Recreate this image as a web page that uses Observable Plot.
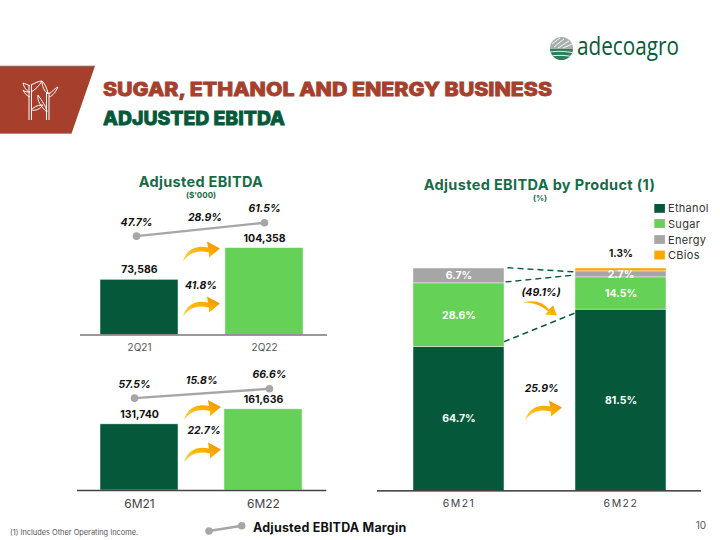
<!DOCTYPE html>
<html>
<head>
<meta charset="utf-8">
<script src="https://cdn.jsdelivr.net/npm/d3@7"></script>
<script src="https://cdn.jsdelivr.net/npm/@observablehq/plot@0.6"></script>
<style>
html,body{margin:0;padding:0;background:#fff;overflow:hidden}
#page{position:relative;width:720px;height:540px;overflow:hidden;background:#fff;font-family:Inter,sans-serif}
#page svg{position:absolute;overflow:visible}
</style>
</head>
<body>
<div id="page"></div>
<script>
// ---- data ----
const quarters = ["2Q21", "2Q22"];
const quarterEbitda = [73586, 104358];
const quarterMargin = [47.7, 61.5];
const halves = ["6M21", "6M22"];
const halfEbitda = [131740, 161636];
const halfMargin = [57.5, 66.6];
const products = ["Ethanol", "Sugar", "Energy", "CBios"];
const ethanolShare = [64.7, 81.5];
const sugarShare = [28.6, 14.5];
const energyShare = [6.7, 2.7];
const cbiosShare = [0, 1.3];
const connectorFrom = [100, 93.6, 66.7];
const connectorTo = [98.1, 96.7, 79.6];

const DARK = "#05593A", LIGHT = "#65D156", GREY = "#A6A6A6", ORANGE = "#FFA500";
const TITLE = "#176B47", RUST = "#A63F2C";
const FONT = "Inter, sans-serif";
const page = document.getElementById("page");
const place = (fig, left, top) => {
  fig.style.left = left + "px"; fig.style.top = top + "px";
  page.appendChild(fig); return fig;
};
const transparent = {background: "transparent", overflow: "visible", maxWidth: "none", fontFamily: FONT};
const thousands = d3.format(",");
const pct = v => v.toFixed(1) + "%";

// ---- absolute bar panel ----
function barPanel({cats, values, base, top, left, width, height, baseline, x, ruleColor, tickSize, tickColor, tickDy}) {
  const rows = cats.map((c, i) => ({c, v: values[i]}));
  return place(Plot.plot({
    width, height, marginTop: 0, marginBottom: 30, marginLeft: 0, marginRight: 0,
    style: transparent,
    x: {domain: cats, axis: null, ...x},
    y: {domain: [base, top], axis: null},
    color: {domain: cats, range: [DARK, LIGHT]},
    marks: [
      Plot.barY(rows, {x: "c", y1: () => base, y2: "v", fill: "c", stroke: "#E8F4EC", strokeWidth: 0.5}),
      Plot.ruleY([base], {stroke: ruleColor, strokeWidth: 1.5}),
      Plot.text(rows, {x: "c", y: "v", text: d => thousands(d.v), dy: -10, fontWeight: 700, fontSize: 10.5, fill: "#111"}),
      Plot.axisX({label: null, tickSize: 0, tickPadding: tickDy, fontSize: tickSize, color: tickColor, fill: tickColor, lineAnchor: "top"})
    ]
  }), left, baseline - (height - 30));
}

// ---- margin overlay ----
function marginPanel({cats, values, domain, left, top, width, height}) {
  const rows = cats.map((c, i) => ({c, v: values[i]}));
  return place(Plot.plot({
    width, height, marginTop: 0, marginBottom: 0, marginLeft: 10, marginRight: 10,
    style: transparent,
    x: {type: "point", domain: cats, axis: null, padding: 0},
    y: {domain, axis: null},
    marks: [
      Plot.line(rows, {x: "c", y: "v", stroke: GREY, strokeWidth: 2.4}),
      Plot.dot(rows, {x: "c", y: "v", r: 3.8, fill: GREY}),
      Plot.text(rows, {x: "c", y: "v", text: d => pct(d.v), dy: -14, fontWeight: 700, fontStyle: "italic", fontSize: 10.5, fill: "#111"})
    ]
  }), left, top);
}

barPanel({cats: quarters, values: quarterEbitda, base: 19836, top: 155700, left: 80, width: 247, height: 169.5, baseline: 334.5,
  x: {paddingInner: 0.376, paddingOuter: 0.176, align: 0.4545}, ruleColor: "#777", tickSize: 10, tickColor: "#555", tickDy: 9});
barPanel({cats: halves, values: halfEbitda, base: 0, top: 269000, left: 76.7, width: 249.3, height: 165, baseline: 490,
  x: {paddingInner: 0.367, paddingOuter: 0.182, align: 0.5}, ruleColor: "#444", tickSize: 12, tickColor: "#444", tickDy: 9});
marginPanel({cats: quarters, values: quarterMargin, domain: [38.1, 79.3], left: 125.7, top: 205, width: 148.6, height: 40});
marginPanel({cats: halves, values: halfMargin, domain: [50.4, 79.5], left: 124, top: 375, width: 155.3, height: 30});

// ---- stacked panel ----
const stackRows = [];
halves.forEach((h, i) => {
  [ethanolShare, sugarShare, energyShare, cbiosShare].forEach((arr, j) => {
    stackRows.push({h, product: products[j], share: arr[i]});
  });
});
const stackTop = 267.7;
const stackFig = place(Plot.plot({
  width: 324, height: 252.3, marginTop: 0, marginBottom: 30, marginLeft: 0, marginRight: 0,
  style: transparent,
  x: {domain: halves, axis: null, paddingInner: 0.441, paddingOuter: 0.219, align: 0.5},
  y: {domain: [0, 100], axis: null},
  color: {domain: products, range: [DARK, LIGHT, GREY, ORANGE]},
  marks: [
    Plot.barY(stackRows, Plot.stackY({x: "h", y: "share", fill: "product", order: null, stroke: "#F2F2F2", strokeWidth: 0.5})),
    Plot.text(stackRows, Plot.stackY({
      x: "h", y: "share", order: null,
      text: d => d.product === "CBios" ? "" : pct(d.share),
      fill: "#fff", fontWeight: 700, fontSize: 10.5
    })),
    Plot.text([stackRows.find(d => d.h === "6M22" && d.product === "CBios")], {
      x: "h", y: () => 100, text: d => pct(d.share), dy: -15, fill: "#111", fontWeight: 700, fontSize: 10
    }),
    Plot.ruleY([0], {stroke: "#111", strokeWidth: 1.2}),
    Plot.axisX({label: null, tickSize: 0, tickPadding: 9, fontSize: 10.5, fill: "#444", color: "#444", lineAnchor: "top"})
  ]
}), 377, stackTop);
d3.select(stackFig).selectAll('[aria-label="x-axis tick label"] text').style("letter-spacing", "1.5px").attr("font-weight", 400);

// ---- decoration / annotation layer ----
const svg = d3.select(page).append("svg").attr("width", 720).attr("height", 540)
  .style("left", 0).style("top", 0).style("pointer-events", "none").style("font-family", FONT);
const defs = svg.append("defs");
const grad = defs.append("linearGradient").attr("id", "arrowGrad").attr("x1", 0).attr("y1", 1).attr("x2", 1).attr("y2", 0);
grad.append("stop").attr("offset", "0%").attr("stop-color", "#FFD24A");
grad.append("stop").attr("offset", "55%").attr("stop-color", "#FFB000");
grad.append("stop").attr("offset", "100%").attr("stop-color", "#E88F00");
defs.append("clipPath").attr("id", "logoClip").append("circle").attr("cx", 561.5).attr("cy", 48.5).attr("r", 11.5);

function note(text, x, y, opt = {}) {
  return svg.append("text").text(text).attr("x", x).attr("y", y)
    .attr("text-anchor", opt.anchor || "middle").attr("dominant-baseline", "central")
    .attr("font-size", opt.size || 10.5).attr("font-weight", opt.weight || 700)
    .attr("letter-spacing", opt.spacing || 0)
    .attr("font-style", opt.italic ? "italic" : "normal").attr("fill", opt.fill || "#111");
}

// header band
svg.append("path").attr("d", "M0 66H95L71.5 133.5H0Z").attr("fill", RUST);
svg.append("path").attr("d", "M0 66H95M0 133.5H71.5").attr("stroke", "#9a8f88").attr("stroke-width", 0.8).attr("fill", "none");
const icon = svg.append("g").attr("stroke", "#fff").attr("stroke-width", 1).attr("fill", "none");
icon.append("path").attr("d", "M29 85V120M31.5 85V120M46.5 92V120M49 92V120");
icon.append("path").attr("d", "M30 86C27 84 25 84 23 83C24 87 26 91 30 92M30 92C27 92 25 92 23 90C25 94 27 96 30 97");
icon.append("path").attr("d", "M31 85C35 83 39 81 42 81C39 86 35 90 31 92M42 81C45 84 47 88 48 94C44 91 42 86 42 81");
icon.append("path").attr("d", "M49 94C52 92 55 88 58 87C56 91 53 96 49 97");
icon.append("path").attr("d", "M47 112C46 106 42 101 38 95C37 101 41 107 47 112");
icon.append("path").attr("d", "M31 110C35 106 39 105 43 105C40 109 36 111 31 110");

svg.append("text").text("SUGAR, ETHANOL AND ENERGY BUSINESS").attr("x", 103).attr("y", 96)
  .attr("font-size", 19).attr("font-weight", 800).attr("fill", RUST).attr("stroke", RUST).attr("stroke-width", 0.8)
  .attr("textLength", 449).attr("lengthAdjust", "spacingAndGlyphs");
svg.append("text").text("ADJUSTED EBITDA").attr("x", 103).attr("y", 125)
  .attr("font-size", 19).attr("font-weight", 800).attr("fill", DARK).attr("stroke", DARK).attr("stroke-width", 0.8)
  .attr("textLength", 182).attr("lengthAdjust", "spacingAndGlyphs");

// logo
const logo = svg.append("g").attr("clip-path", "url(#logoClip)");
logo.append("rect").attr("x", 550).attr("y", 37).attr("width", 24).attr("height", 12).attr("fill", "#A9B0AC");
logo.append("rect").attr("x", 550).attr("y", 49).attr("width", 24).attr("height", 12).attr("fill", "#2E7F5D");
logo.append("path").attr("d", "M552 44L560 38M554 47L564 39M558 48L569 41M563 48L572 44M550 52C556 51 566 51 574 53M550 56C558 55 566 55 574 57")
  .attr("stroke", "#fff").attr("stroke-width", 0.9).attr("fill", "none");
svg.append("text").text("adecoagro").attr("x", 577).attr("y", 55).attr("font-family", "'Open Sans', sans-serif")
  .attr("font-size", 25).attr("fill", "#0B5A3A").attr("textLength", 102).attr("lengthAdjust", "spacingAndGlyphs");

// panel titles
note("Adjusted EBITDA", 201, 181, {size: 14.5, fill: TITLE, spacing: 0.3});
note("($'000)", 201, 195, {size: 8, fill: TITLE});
note("Adjusted EBITDA by Product (1)", 539.5, 184.5, {size: 14.5, fill: TITLE, spacing: 0.35});
note("(%)", 540, 198, {size: 8, fill: TITLE});

// growth notes
const growthNotes = ["28.9%", "41.8%", "15.8%", "22.7%", "(49.1%)", "25.9%"];
note(growthNotes[0], 205, 217.5, {italic: true});
note(growthNotes[1], 201, 285.5, {italic: true});
note(growthNotes[2], 201.7, 380, {italic: true});
note(growthNotes[3], 204, 430.5, {italic: true});
note(growthNotes[4], 541, 292.5, {italic: true});
note(growthNotes[5], 541.7, 388, {italic: true});

// curved arrows
function arrow(x, y, down) {
  const d = down
    ? "M0 0C9 -3 19 -1 25 7L29 3L33 13L21 12L24 9C18 3 9 0 0 0Z"
    : "M0 0C3 -11 12 -17 25 -14L24 -20L37 -13L26 -4L26 -9C15 -12 6 -9 0 0Z";
  svg.append("path").attr("d", d).attr("transform", `translate(${x},${y})`).attr("fill", "url(#arrowGrad)");
}
arrow(183, 261.5); arrow(183, 316.5);
arrow(184, 420); arrow(184, 462.5);
arrow(525, 420.5, false);
arrow(524, 302.5, true);

// connectors through the stacked panel's scales
const sx = stackFig.scale("x"), sy = stackFig.scale("y");
const connectorGap = [3.5, 1.5, 0];
connectorFrom.forEach((v, i) => {
  svg.append("line")
    .attr("x1", 377 + sx.apply(halves[0]) + sx.bandwidth + connectorGap[i]).attr("y1", stackTop + sy.apply(v))
    .attr("x2", 377 + sx.apply(halves[1])).attr("y2", stackTop + sy.apply(connectorTo[i]))
    .attr("stroke", "#0B5A3A").attr("stroke-width", 1.4).attr("stroke-dasharray", "6 4");
});

// product legend
const legendColors = [DARK, LIGHT, GREY, ORANGE];
const legendRows = [208.4, 223.5, 239.5, 255];
products.forEach((p, i) => {
  svg.append("rect").attr("x", 654.3).attr("y", legendRows[i] - 4.4).attr("width", 10.6).attr("height", 8.8).attr("fill", legendColors[i]);
  note(p, 668, legendRows[i], {anchor: "start", size: 11, weight: 400, fill: "#333", spacing: 0.3});
});

// margin legend, footnote, page number
svg.append("line").attr("x1", 209).attr("y1", 531).attr("x2", 241.7).attr("y2", 525.7).attr("stroke", GREY).attr("stroke-width", 2.4);
[[209, 531], [241.7, 525.7]].forEach(p => svg.append("circle").attr("cx", p[0]).attr("cy", p[1]).attr("r", 3.8).attr("fill", GREY));
note("Adjusted EBITDA Margin", 253, 527, {anchor: "start", size: 12.5, spacing: 0.2});
note("(1) Includes Other Operating Income.", 10, 532.5, {anchor: "start", size: 7.4, weight: 400, fill: "#555"});
note("10", 701, 525, {size: 10, weight: 400, fill: "#555"});
</script>
</body>
</html>
